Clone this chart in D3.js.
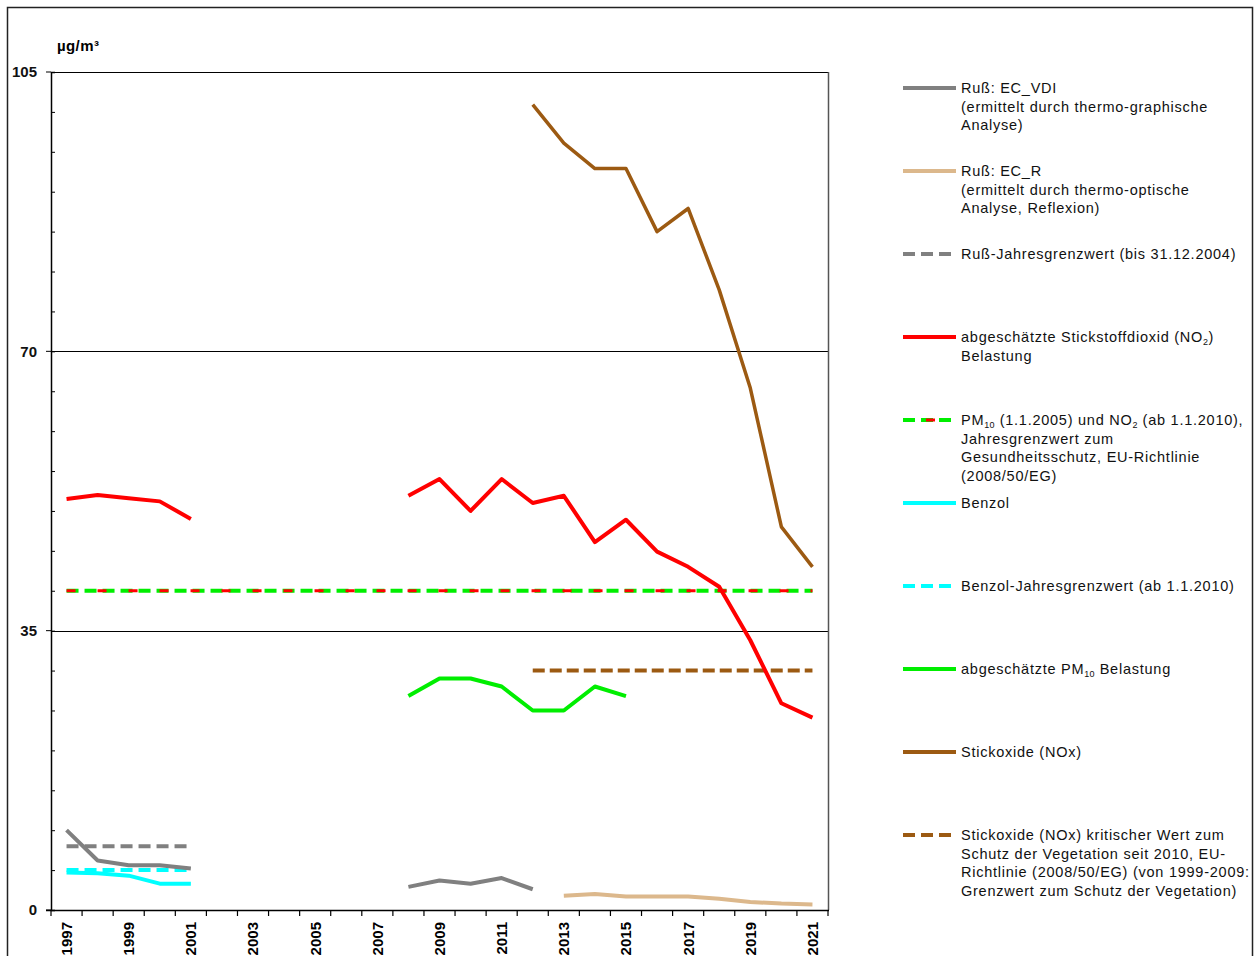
<!DOCTYPE html>
<html>
<head>
<meta charset="utf-8">
<script src="https://cdn.jsdelivr.net/npm/d3@7"></script>
<style>
  body { margin: 0; background: #fff; }
  svg { font-family: "Liberation Sans", Arial, sans-serif; }
</style>
</head>
<body>
<div id="chart"></div>
<script>
// Data
const years = ["1997", "1998", "1999", "2000", "2001", "2002", "2003", "2004", "2005", "2006",
  "2007", "2008", "2009", "2010", "2011", "2012", "2013", "2014", "2015", "2016",
  "2017", "2018", "2019", "2020", "2021"];
const yTickLabels = [0, 35, 70, 105];

const ecVdi = [10.0, 6.2, 5.6, 5.6, 5.2, null, null, null, null, null, null, 2.9, 3.7, 3.3, 4.0, 2.6,
  null, null, null, null, null, null, null, null, null];
const ecR = [null, null, null, null, null, null, null, null, null, null, null, null, null, null, null, null,
  1.8, 2.0, 1.7, 1.7, 1.7, 1.4, 1.0, 0.8, 0.7];
const russLimit = [8, 8, 8, 8, 8, null, null, null, null, null, null, null, null, null, null, null,
  null, null, null, null, null, null, null, null, null];
const no2 = [51.5, 52.0, 51.6, 51.2, 49.0, null, null, null, null, null, null, 51.9, 54.0, 50.0, 54.0, 51.0,
  51.9, 46.1, 48.9, 44.9, 43.0, 40.5, 33.8, 25.9, 24.1];
const pm10No2Limit = [40, 40, 40, 40, 40, 40, 40, 40, 40, 40, 40, 40, 40, 40, 40, 40,
  40, 40, 40, 40, 40, 40, 40, 40, 40];
const benzol = [4.7, 4.6, 4.3, 3.3, 3.3, null, null, null, null, null, null, null, null, null, null, null,
  null, null, null, null, null, null, null, null, null];
const benzolLimit = [5, 5, 5, 5, 5, null, null, null, null, null, null, null, null, null, null, null,
  null, null, null, null, null, null, null, null, null];
const pm10 = [null, null, null, null, null, null, null, null, null, null, null, 26.8, 29.0, 29.0, 28.0, 25.0,
  25.0, 28.0, 26.8, null, null, null, null, null, null];
const nox = [null, null, null, null, null, null, null, null, null, null, null, null, null, null, null, 100.9,
  96.1, 92.9, 92.9, 85.0, 87.9, 77.7, 65.4, 48.0, 43.0];
const noxLimit = [null, null, null, null, null, null, null, null, null, null, null, null, null, null, null, 30,
  30, 30, 30, 30, 30, 30, 30, 30, 30];

// Legend texts, {..} marks a subscript
const legendLabels = [
  ["Ruß: EC_VDI", "(ermittelt durch thermo-graphische", "Analyse)"],
  ["Ruß: EC_R", "(ermittelt durch thermo-optische", "Analyse, Reflexion)"],
  ["Ruß-Jahresgrenzwert (bis 31.12.2004)"],
  ["abgeschätzte Stickstoffdioxid (NO{2})", "Belastung"],
  ["PM{10}  (1.1.2005) und NO{2}  (ab 1.1.2010),", "Jahresgrenzwert zum", "Gesundheitsschutz, EU-Richtlinie", "(2008/50/EG)"],
  ["Benzol"],
  ["Benzol-Jahresgrenzwert (ab 1.1.2010)"],
  ["abgeschätzte PM{10} Belastung"],
  ["Stickoxide (NOx)"],
  ["Stickoxide (NOx) kritischer Wert zum", "Schutz der Vegetation seit 2010, EU-", "Richtlinie (2008/50/EG) (von 1999-2009:", "Grenzwert zum Schutz der Vegetation)"]
];

const colors = {
  gray: "#808080", tan: "#dcb88c", red: "#ff0000", green: "#00ee00",
  cyan: "#00ffff", brown: "#9c5a12"
};

// draw order matches the reference stacking
const series = [
  { values: pm10No2Limit, color: colors.green, dash: "12,6", width: 4 },
  { values: pm10No2Limit, color: colors.red, dash: "9,22", width: 3 },
  { values: russLimit, color: colors.gray, dash: "12,6", width: 4 },
  { values: benzolLimit, color: colors.cyan, dash: "12,6", width: 4 },
  { values: noxLimit, color: colors.brown, dash: "12,5", width: 4 },
  { values: ecVdi, color: colors.gray, width: 4 },
  { values: ecR, color: colors.tan, width: 4 },
  { values: benzol, color: colors.cyan, width: 4 },
  { values: pm10, color: colors.green, width: 4 },
  { values: no2, color: colors.red, width: 4 },
  { values: nox, color: colors.brown, width: 3.5 }
];

const legendSamples = [
  [{ color: colors.gray }],
  [{ color: colors.tan }],
  [{ color: colors.gray, dash: "12,6" }],
  [{ color: colors.red }],
  [{ color: colors.green, dash: "12,6" }, { color: colors.red, dash: "0,23,9,40", width: 3 }],
  [{ color: colors.cyan }],
  [{ color: colors.cyan, dash: "12,6" }],
  [{ color: colors.green }],
  [{ color: colors.brown }],
  [{ color: colors.brown, dash: "12,6" }]
];

const W = 1257, H = 956;
const plot = { left: 51, right: 828, top: 72, bottom: 910 };

const svg = d3.select("#chart")
  .append("svg")
  .attr("width", W)
  .attr("height", H);

// outer frame
svg.append("rect")
  .attr("x", 7.5)
  .attr("y", 7.5)
  .attr("width", 1245)
  .attr("height", 1000)
  .attr("fill", "none")
  .attr("stroke", "#222")
  .attr("stroke-width", 1.5);

const x = d3.scaleBand()
  .domain(years)
  .range([plot.left, plot.right])
  .padding(0);

const y = d3.scaleLinear()
  .domain([0, 105])
  .range([plot.bottom, plot.top]);

const cx = d => x(d) + x.bandwidth() / 2;

// gridlines + plot border (top & right)
svg.append("g")
  .selectAll("line")
  .data([35, 70, 105])
  .join("line")
  .attr("x1", plot.left)
  .attr("x2", plot.right)
  .attr("y1", d => Math.round(y(d)) + 0.5)
  .attr("y2", d => Math.round(y(d)) + 0.5)
  .attr("stroke", "#000")
  .attr("stroke-width", 1);

svg.append("line")
  .attr("x1", plot.right + 0.5)
  .attr("x2", plot.right + 0.5)
  .attr("y1", plot.top)
  .attr("y2", plot.bottom)
  .attr("stroke", "#555")
  .attr("stroke-width", 1.5);

// y axis: minor ticks inside every 5, labels at 35-steps
const yAxis = svg.append("g")
  .attr("transform", `translate(${plot.left},0)`);

yAxis.call(d3.axisRight(y).tickValues(d3.range(0, 106, 5)).tickSize(4).tickFormat(""));
yAxis.select(".domain").attr("stroke", "#000").attr("stroke-width", 1.5);

yAxis.selectAll(".major")
  .data(yTickLabels)
  .join("line")
  .attr("class", "major")
  .attr("x1", -5)
  .attr("x2", 0)
  .attr("y1", d => y(d))
  .attr("y2", d => y(d))
  .attr("stroke", "#000");

yAxis.selectAll(".lbl")
  .data(yTickLabels)
  .join("text")
  .attr("class", "lbl")
  .attr("x", -14)
  .attr("y", d => y(d))
  .attr("dy", "0.36em")
  .attr("text-anchor", "end")
  .style("font-size", "15px")
  .style("font-weight", "bold")
  .attr("fill", "#111")
  .text(d => d);

svg.append("text")
  .attr("x", 57)
  .attr("y", 51)
  .style("font-size", "15px")
  .style("font-weight", "bold")
  .style("letter-spacing", "0.4px")
  .text("µg/m³");

// x axis
const xAxis = svg.append("g")
  .attr("transform", `translate(0,${plot.bottom})`);

xAxis.selectAll(".tick")
  .data(d3.range(years.length + 1))
  .join("line")
  .attr("x1", i => plot.left + i * x.bandwidth())
  .attr("x2", i => plot.left + i * x.bandwidth())
  .attr("y1", 0)
  .attr("y2", 6)
  .attr("stroke", "#000")
  .attr("stroke-width", 1.2);

xAxis.append("line")
  .attr("x1", plot.left - 5)
  .attr("x2", plot.right + 1)
  .attr("y1", 0.5)
  .attr("y2", 0.5)
  .attr("stroke", "#000")
  .attr("stroke-width", 1.5);

xAxis.selectAll(".year")
  .data(years.filter((d, i) => i % 2 === 0))
  .join("text")
  .attr("class", "year")
  .attr("transform", d => `translate(${cx(d)},12) rotate(-90)`)
  .attr("dy", "0.36em")
  .attr("text-anchor", "end")
  .style("font-size", "15px")
  .style("font-weight", "bold")
  .text(d => d);

// lines
const line = d3.line()
  .defined(d => d.v != null)
  .x(d => cx(d.year))
  .y(d => y(d.v));

svg.append("g")
  .selectAll("path")
  .data(series)
  .join("path")
  .attr("d", s => line(years.map((yr, i) => ({ year: yr, v: s.values[i] }))))
  .attr("fill", "none")
  .attr("stroke", s => s.color)
  .attr("stroke-width", s => s.width)
  .attr("stroke-dasharray", s => s.dash || null)
  .attr("stroke-linejoin", "round");

// legend
const legend = svg.append("g");
const legendTop = 88, legendStep = 83, lineH = 18.7;

legendLabels.forEach((lines, i) => {
  const g = legend.append("g")
    .attr("transform", `translate(0,${legendTop + i * legendStep})`);

  legendSamples[i].forEach(s => {
    g.append("line")
      .attr("x1", 903)
      .attr("x2", 956)
      .attr("y1", 0)
      .attr("y2", 0)
      .attr("stroke", s.color)
      .attr("stroke-width", s.width || 4)
      .attr("stroke-dasharray", s.dash || null);
  });

  lines.forEach((txt, j) => {
    const t = g.append("text")
      .attr("x", 961)
      .attr("y", j * lineH)
      .attr("dy", "0.35em")
      .style("font-size", "14.5px")
      .style("letter-spacing", "0.75px")
      .attr("fill", "#111");
    let shift = 0;
    txt.split(/(\{[^}]*\})/).filter(p => p.length).forEach(p => {
      if (p.startsWith("{")) {
        t.append("tspan")
          .attr("dy", 3)
          .style("font-size", "9px")
          .style("letter-spacing", "0.3px")
          .text(p.slice(1, -1));
        shift = -3;
      } else {
        t.append("tspan")
          .attr("dy", shift || null)
          .text(p);
        shift = 0;
      }
    });
  });
});
</script>
</body>
</html>
